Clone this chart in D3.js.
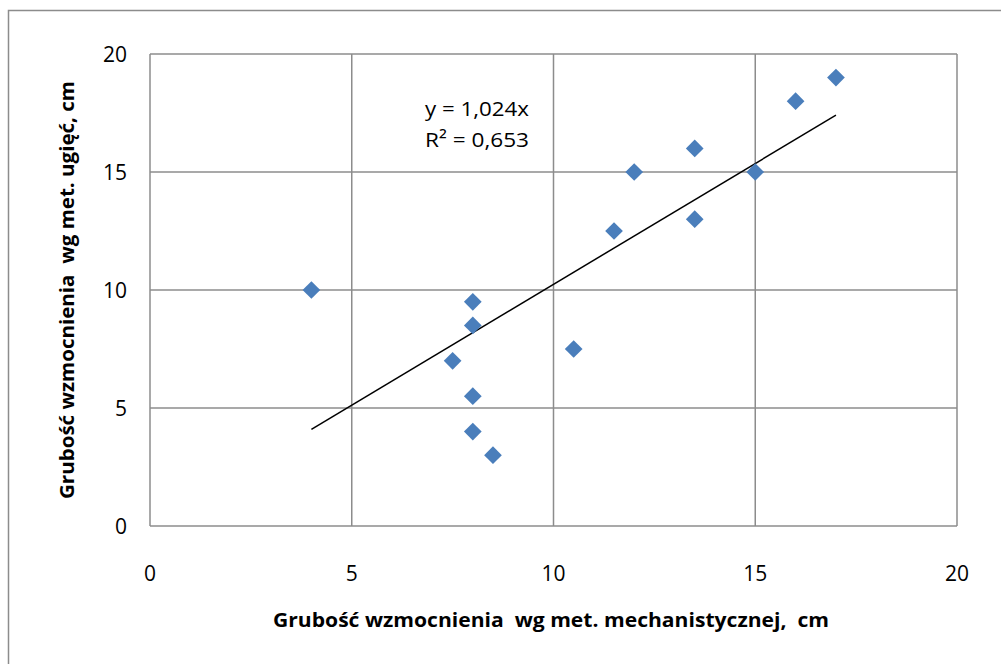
<!DOCTYPE html>
<html>
<head>
<meta charset="utf-8">
<script src="https://cdn.jsdelivr.net/npm/d3@7"></script>
<style>
  body { margin: 0; background: #fff; }
  text { font-family: "Open Sans", sans-serif; fill: #000; white-space: pre; }
</style>
</head>
<body>
<main></main>
<script>
// measured points: x = mechanistic method, y = deflection method
const xVals = [4, 8, 8, 7.5, 8, 8, 8.5, 10.5, 11.5, 12, 13.5, 13.5, 15, 16, 17];
const yVals = [10, 9.5, 8.5, 7, 5.5, 4, 3, 7.5, 12.5, 15, 16, 13, 15, 18, 19];
const xTicks = [0, 5, 10, 15, 20];
const yTicks = [0, 5, 10, 15, 20];
const slope = 1.024;
const trendRange = [4, 17];
const trendLabel = ["y = 1,024x", "R² = 0,653"];

const svg = d3.select("main").append("svg")
              .attr("width", 1001).attr("height", 664);

// outer chart border
svg.append("rect")
   .attr("x", 8.5).attr("y", 10.5)
   .attr("width", 1000).attr("height", 700)
   .attr("fill", "none").attr("stroke", "#8c8c8c").attr("stroke-width", 1.5);

const x = d3.scaleLinear().domain([0, 20]).range([150, 957]);
const y = d3.scaleLinear().domain([0, 20]).range([526, 54]);

// grid
const grid = svg.append("g").attr("stroke", "#8c8c8c").attr("stroke-width", 1.5);
grid.selectAll("line.v").data(xTicks).enter().append("line")
    .attr("x1", d => x(d)).attr("x2", d => x(d))
    .attr("y1", y(0)).attr("y2", y(20));
grid.selectAll("line.h").data(yTicks).enter().append("line")
    .attr("x1", x(0)).attr("x2", x(20))
    .attr("y1", d => y(d)).attr("y2", d => y(d));

// tick labels
svg.append("g").selectAll("text").data(xTicks).enter().append("text")
   .attr("x", d => x(d)).attr("y", 581)
   .attr("text-anchor", "middle").attr("font-size", 21)
   .text(d => d);
svg.append("g").selectAll("text").data(yTicks).enter().append("text")
   .attr("x", 127).attr("y", d => y(d) + 8)
   .attr("text-anchor", "end").attr("font-size", 21)
   .text(d => d);

// trendline
svg.append("line")
   .attr("x1", x(trendRange[0])).attr("y1", y(slope * trendRange[0]))
   .attr("x2", x(trendRange[1])).attr("y2", y(slope * trendRange[1]))
   .attr("stroke", "#000").attr("stroke-width", 1.5);

// points
const sym = d3.symbol().type(d3.symbolDiamond2).size(200);
svg.append("g").selectAll("path").data(xVals).enter().append("path")
   .attr("d", sym)
   .attr("transform", (d, i) => `translate(${x(d)},${y(yVals[i])})`)
   .attr("fill", "#4a7ebb");

// trendline label
svg.append("g").selectAll("text").data(trendLabel).enter().append("text")
   .attr("x", 477).attr("y", (d, i) => 116 + i * 31)
   .attr("text-anchor", "middle").attr("font-size", 20)
   .attr("textLength", 104).attr("lengthAdjust", "spacingAndGlyphs")
   .text(d => d);

// axis titles
svg.append("text")
   .attr("x", 551).attr("y", 627)
   .attr("text-anchor", "middle").attr("font-size", 19).attr("font-weight", "bold")
   .attr("textLength", 556).attr("lengthAdjust", "spacingAndGlyphs")
   .text("Grubość wzmocnienia  wg met. mechanistycznej,  cm");
svg.append("text")
   .attr("transform", "translate(74,290) rotate(-90)")
   .attr("text-anchor", "middle").attr("font-size", 19).attr("font-weight", "bold")
   .attr("textLength", 418).attr("lengthAdjust", "spacingAndGlyphs")
   .text("Grubość wzmocnienia  wg met. ugięć, cm");
</script>
</body>
</html>
